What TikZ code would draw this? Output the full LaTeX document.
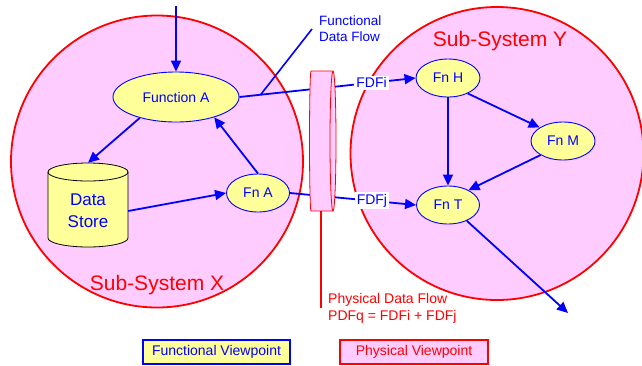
\documentclass[tikz,border=0pt]{standalone}
\usepackage{fontspec}
\setmainfont{Liberation Sans}
\usetikzlibrary{arrows.meta,shapes.geometric}
\definecolor{pinkf}{HTML}{FFCCFF}
\definecolor{yelf}{HTML}{FFFF99}
\definecolor{myblue}{HTML}{0000FF}
\definecolor{myred}{HTML}{FF0000}
\begin{document}
\begin{tikzpicture}[x=1pt,y=-1pt,
  fn/.style={ellipse, draw=myblue, line width=0.9pt, fill=yelf, text=myblue, inner sep=0pt, font=\fontsize{14}{16}\selectfont},
  flow/.style={draw=myblue, line width=1.8pt, -{Triangle[length=11pt,width=10pt]}},
  sys/.style={draw=myred, line width=1.8pt, fill=pinkf},
  lbl/.style={fill=white, text=myblue, inner sep=2pt, font=\fontsize{14}{16}\selectfont},
  systxt/.style={text=myred, font=\fontsize{21}{25}\selectfont},
  viewbox/.style={minimum width=147pt, minimum height=24pt, inner sep=0pt, font=\fontsize{14}{16}\selectfont}]
\useasboundingbox (0,0) rectangle (642,365);
% sub-systems
\draw[sys] (157,161.5) circle[radius=146];
\draw[sys] (497,153.5) circle[radius=146.5];
% data store cylinder
\draw[black, line width=0.8pt, fill=yelf] (48,172) -- (48,238)
  arc[start angle=180, end angle=0, x radius=40, y radius=9] -- (128,172)
  arc[start angle=0, end angle=-180, x radius=40, y radius=9] -- cycle;
\draw[black, line width=0.8pt] (48,172) arc[start angle=180, end angle=0, x radius=40, y radius=9];
\node[text=myblue, align=center, font=\fontsize{17}{22}\selectfont, minimum width=80pt, minimum height=96pt, inner sep=0pt] (ds) at (88,211) {Data\\Store};
% functions
\node[fn, minimum width=126pt, minimum height=50pt] (fa) at (176,97) {Function A};
\node[fn, minimum width=63pt, minimum height=38pt] (fna) at (258,193) {Fn A};
\node[fn, minimum width=64pt, minimum height=38pt] (fnh) at (448,78) {Fn H};
\node[fn, minimum width=64pt, minimum height=38pt] (fnm) at (563,141) {Fn M};
\node[fn, minimum width=63pt, minimum height=38pt] (fnt) at (448,205) {Fn T};
\node[systxt] (sx) at (157,285) {Sub-System X};
\node[systxt] (sy) at (500,41) {Sub-System Y};
% coordinates
\coordinate (tin) at (176,6);
\coordinate (out) at (568,313);
\coordinate (ptr) at (312,29);
\coordinate (pipebot) at (321,211);
\coordinate (pdfend) at (321,308);
% flows
\draw[flow] (tin) -- (fa.north);
\draw[flow] (fa.210) -- (ds.north);
\draw[flow] (fna.north) -- (fa.332);
\draw[flow] (ds.east) -- (fna.west);
\draw[flow] (fa.east) -- coordinate[pos=0.12] (fdfp) node[lbl, pos=0.75] (fdfi) {FDFi} (fnh.west);
\draw[flow] (fna.east) -- node[lbl, pos=0.65] (fdfj) {FDFj} (fnt.west);
\draw[flow] (fnh.south) -- (fnt.north);
\draw[flow] (fnh.322) -- (fnm.150);
\draw[flow] (fnm.212) -- (fnt.36);
\draw[flow] (fnt.320) -- (out);
% pipe
\draw[myred, line width=0.8pt, fill=pinkf] (311,71) -- (333,71)
  arc[start angle=-90, end angle=90, x radius=3, y radius=70] -- (311,211)
  arc[start angle=90, end angle=270, x radius=1.5, y radius=70] -- cycle;
\draw[myred, line width=0.8pt] (333,71) arc[start angle=-90, end angle=-270, x radius=3, y radius=70];
% annotations
\node[text=myblue, align=left, anchor=west, font=\fontsize{13.5}{16}\selectfont, inner sep=0pt] (fdf) at (319,29) {Functional\\Data Flow};
\draw[myblue, line width=1.6pt] (fdfp) -- (ptr);
\draw[myred, line width=1.3pt] (pipebot) -- (pdfend);
\node[text=myred, align=left, anchor=west, font=\fontsize{14}{17}\selectfont, inner sep=0pt] (pdf) at (328,308.5) {Physical Data Flow\\PDFq = FDFi + FDFj};
% legend
\node[viewbox, draw=myblue, line width=1.2pt, fill=yelf, text=myblue] (fv) at (216.5,352) {Functional Viewpoint};
\node[viewbox, draw=myred, line width=1.6pt, fill=pinkf, text=myred, minimum width=148pt] (pv) at (414,352) {Physical Viewpoint};
\end{tikzpicture}
\end{document}
